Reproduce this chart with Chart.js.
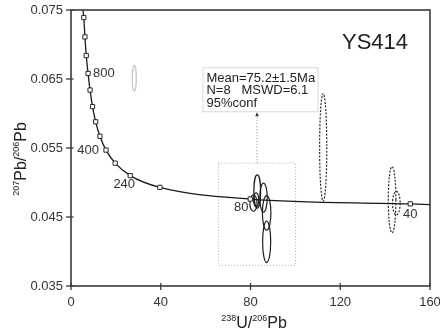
<!DOCTYPE html>
<html><head><meta charset="utf-8">
<script src="https://cdn.jsdelivr.net/npm/chart.js@4.4.1/dist/chart.umd.min.js"></script>
<style>html,body{margin:0;padding:0;background:#fff}canvas{display:block}</style>
</head><body>
<canvas id="c" width="440" height="334"></canvas>
<script>
// ---- data ----
const xTicks = [0, 40, 80, 120, 160];
const yTicks = [0.035, 0.045, 0.055, 0.065, 0.075];
// concordia age markers (Ma) and their positions
const ages    = [1040, 960, 880, 800, 720, 640, 560, 480, 400, 320, 240, 160, 80, 40];
const markerX = [5.7, 6.2, 6.8, 7.6, 8.5, 9.6, 11.0, 12.9, 15.6, 19.7, 26.4, 39.6, 79.9, 151.2];
const markerY = [0.0739, 0.0711, 0.0684, 0.0658, 0.0634, 0.0610, 0.0588, 0.0567, 0.0547, 0.0528, 0.0510, 0.0493, 0.0476, 0.0469];
const labeledAges = [800, 400, 240, 80, 40];
// where the concordia curve leaves the frame
const curveEndX = [5.2, 160];
const curveEndY = [0.0752, 0.0468];
// solid error ellipses: centre and half-axes
const ellX  = [83.0, 85.8, 87.2, 87.2, 81.3, 82.5];
const ellY  = [0.0487, 0.0478, 0.0456, 0.0414, 0.0470, 0.0475];
const ellRx = [1.5, 1.65, 1.9, 1.8, 1.6, 1.1];
const ellRy = [0.0024, 0.0021, 0.0025, 0.0030, 0.0012, 0.0010];
// dashed (rejected) ellipses
const dashX  = [112.4, 143.1, 145.0];
const dashY  = [0.0551, 0.0475, 0.0470];
const dashRx = [1.6, 1.7, 1.7];
const dashRy = [0.0078, 0.0048, 0.0017];
// faint grey ellipse
const greyX = [28.2], greyY = [0.0651], greyRx = [0.9], greyRy = [0.0019];
// dotted selection box and annotation
const selBoxX = [65.7, 100.1];
const selBoxY = [0.0380, 0.0528];
const noteAt = [58.6, 0.0667];
const statLines = ['Mean=75.2\u00b11.5Ma', 'N=8   MSWD=6.1', '95%conf'];
const sampleName = 'YS414';

const FONT = '"Liberation Sans", Arial, Helvetica, sans-serif';

const curvePts = [{x: curveEndX[0], y: curveEndY[0]}]
  .concat(markerX.map((x, i) => ({x, y: markerY[i]})))
  .concat([{x: curveEndX[1], y: curveEndY[1]}]);
const markerPts = markerX.map((x, i) => ({x, y: markerY[i]}));

function drawEllipses(ctx, sx, sy, X, Y, RX, RY) {
  for (let i = 0; i < X.length; i++) {
    const cx = sx(X[i]), cy = sy(Y[i]);
    const rx = Math.abs(sx(X[i] + RX[i]) - cx), ry = Math.abs(sy(Y[i] + RY[i]) - cy);
    ctx.beginPath();
    ctx.ellipse(cx, cy, rx, ry, 0, 0, Math.PI * 2);
    ctx.stroke();
  }
}

function richWidth(ctx, parts) {
  let w = 0;
  for (const p of parts) { ctx.font = p.size + 'px ' + FONT; w += ctx.measureText(p.t).width; }
  return w;
}
function drawRich(ctx, parts, cx, baseY) {
  let x = cx - richWidth(ctx, parts) / 2;
  ctx.textAlign = 'left'; ctx.textBaseline = 'alphabetic';
  for (const p of parts) {
    ctx.font = p.size + 'px ' + FONT;
    ctx.fillText(p.t, x, baseY + (p.dy || 0));
    x += ctx.measureText(p.t).width;
  }
}

const deco = {
  id: 'deco',
  beforeDatasetsDraw(chart) {
    const ctx = chart.ctx, xs = chart.scales.x, ys = chart.scales.y;
    const sx = v => xs.getPixelForValue(v), sy = v => ys.getPixelForValue(v);
    ctx.save();
    // dotted selection rectangle
    ctx.strokeStyle = '#b0b0b0'; ctx.lineWidth = 1; ctx.setLineDash([1, 2]);
    const rx0 = sx(selBoxX[0]), rx1 = sx(selBoxX[1]), ry0 = sy(selBoxY[1]), ry1 = sy(selBoxY[0]);
    ctx.strokeRect(rx0, ry0, rx1 - rx0, ry1 - ry0);
    // arrow up to the annotation box
    const ax = (rx0 + rx1) / 2;
    const noteTop = sy(noteAt[1]);
    const noteBottom = noteTop + 44;
    ctx.strokeStyle = '#909090';
    ctx.beginPath(); ctx.moveTo(ax, ry0); ctx.lineTo(ax, noteBottom + 5); ctx.stroke();
    ctx.setLineDash([]);
    ctx.fillStyle = '#333';
    ctx.beginPath(); ctx.moveTo(ax, noteBottom + 1); ctx.lineTo(ax - 1.8, noteBottom + 5); ctx.lineTo(ax + 1.8, noteBottom + 5); ctx.closePath(); ctx.fill();
    // annotation box
    const nx = sx(noteAt[0]);
    ctx.fillStyle = '#fff'; ctx.fillRect(nx, noteTop, 115, 44);
    ctx.strokeStyle = '#d8d8d8'; ctx.lineWidth = 1; ctx.strokeRect(nx + 0.5, noteTop + 0.5, 115, 44);
    ctx.fillStyle = '#222'; ctx.font = '13px ' + FONT; ctx.textAlign = 'left'; ctx.textBaseline = 'middle';
    statLines.forEach((s, i) => ctx.fillText(s, nx + 4, noteTop + 11 + i * 12.5));
    // grey ellipse
    ctx.strokeStyle = '#c4c4c4'; ctx.lineWidth = 1.2;
    drawEllipses(ctx, sx, sy, greyX, greyY, greyRx, greyRy);
    // dashed ellipses
    ctx.strokeStyle = '#2a2a2a'; ctx.lineWidth = 1.2; ctx.setLineDash([2, 1.5]);
    drawEllipses(ctx, sx, sy, dashX, dashY, dashRx, dashRy);
    ctx.setLineDash([]);
    // solid ellipses
    ctx.strokeStyle = '#1e1e1e'; ctx.lineWidth = 1.2;
    drawEllipses(ctx, sx, sy, ellX, ellY, ellRx, ellRy);
    ctx.restore();
  },
  afterDraw(chart) {
    const ctx = chart.ctx, a = chart.chartArea, xs = chart.scales.x, ys = chart.scales.y;
    const sx = v => xs.getPixelForValue(v), sy = v => ys.getPixelForValue(v);
    ctx.save();
    // frame
    ctx.strokeStyle = '#3a3a3a'; ctx.lineWidth = 1.6;
    ctx.strokeRect(a.left, a.top, a.right - a.left, a.bottom - a.top);
    // ticks crossing the axes
    ctx.lineWidth = 1.3;
    yTicks.forEach(v => { const y = sy(v); ctx.beginPath(); ctx.moveTo(a.left - 5, y); ctx.lineTo(a.left + 2.5, y); ctx.stroke(); });
    xTicks.forEach(v => { const x = sx(v); ctx.beginPath(); ctx.moveTo(x, a.bottom - 3); ctx.lineTo(x, a.bottom + 4); ctx.stroke(); });
    // age labels
    ctx.fillStyle = '#333'; ctx.font = '13px ' + FONT; ctx.textBaseline = 'middle';
    const off = {800: [5, 0, 'left'], 400: [-7, 0, 'right'], 240: [-6, 9, 'center'], 80: [-9, 8.5, 'center'], 40: [0, 10.5, 'center']};
    labeledAges.forEach(age => {
      const i = ages.indexOf(age);
      const o = off[age];
      ctx.textAlign = o[2];
      ctx.fillText(String(age), sx(markerX[i]) + o[0], sy(markerY[i]) + o[1]);
    });
    // sample name
    ctx.fillStyle = '#222'; ctx.font = '22px ' + FONT; ctx.textAlign = 'center';
    ctx.fillText(sampleName, a.right - 55, a.top + 33);
    // axis titles
    ctx.fillStyle = '#222';
    drawRich(ctx, [{t: '238', size: 9, dy: -7}, {t: 'U/', size: 16}, {t: '206', size: 9, dy: -7}, {t: 'Pb', size: 16}], 254, 328);
    ctx.translate(26, 159); ctx.rotate(-Math.PI / 2);
    drawRich(ctx, [{t: '207', size: 9, dy: -7}, {t: 'Pb/', size: 16}, {t: '206', size: 9, dy: -7}, {t: 'Pb', size: 16}], 0, 0);
    ctx.restore();
  }
};

new Chart(document.getElementById('c'), {
  type: 'scatter',
  data: {
    datasets: [
      {data: curvePts, showLine: true, pointRadius: 0, borderColor: '#1a1a1a', borderWidth: 1.3,
       cubicInterpolationMode: 'monotone', order: 2, clip: 0},
      {data: markerPts, showLine: false, pointStyle: 'rect', pointRadius: 3, backgroundColor: '#fff',
       borderColor: '#2a2a2a', borderWidth: 1, order: 1}
    ]
  },
  options: {
    responsive: false, animation: false, events: [],
    layout: {padding: {top: 10, right: 10, left: 0, bottom: 0}},
    plugins: {legend: {display: false}, tooltip: {enabled: false}},
    scales: {
      x: {
        type: 'linear', min: 0, max: 160,
        afterBuildTicks: s => { s.ticks = xTicks.map(v => ({value: v})); },
        afterFit: s => { s.height = 48; s.paddingLeft = 0; s.paddingRight = 0; },
        grid: {display: false, drawTicks: false}, border: {display: false},
        ticks: {padding: 9, color: '#333', font: {family: FONT, size: 13}, maxRotation: 0, autoSkip: false,
                callback: v => String(v)}
      },
      y: {
        type: 'linear', min: 0.035, max: 0.075,
        afterBuildTicks: s => { s.ticks = yTicks.map(v => ({value: v})); },
        afterFit: s => { s.width = 71; s.paddingTop = 0; s.paddingBottom = 0; },
        grid: {display: false, drawTicks: false}, border: {display: false},
        ticks: {padding: 8, color: '#333', font: {family: FONT, size: 13}, autoSkip: false,
                callback: v => v.toFixed(3)}
      }
    }
  },
  plugins: [deco]
});
</script>
</body></html>
